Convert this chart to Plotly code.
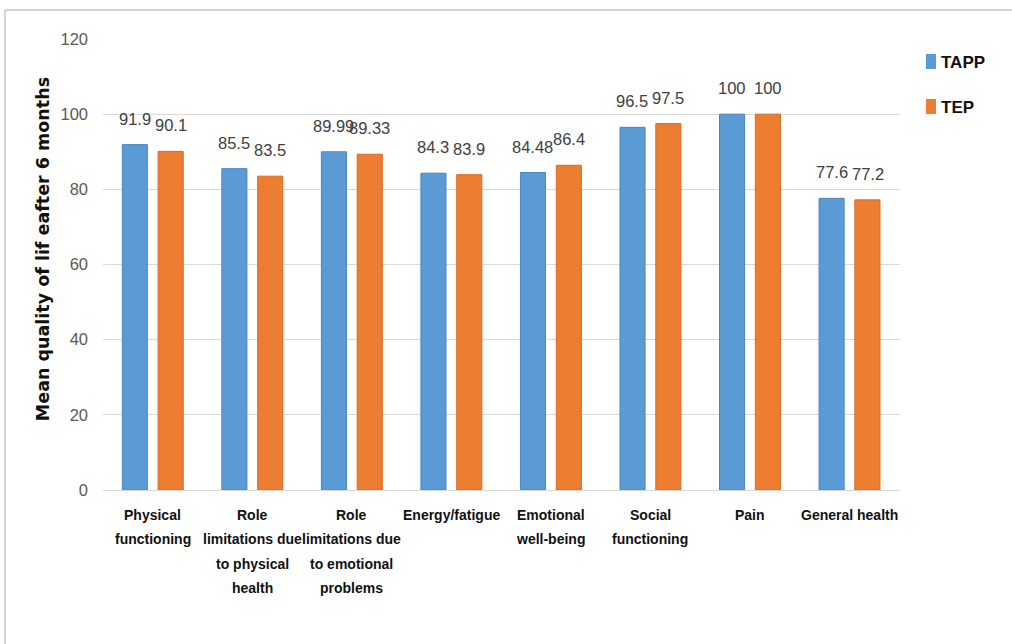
import plotly.graph_objects as go

# SF-36 domains and mean scores at 6 months
categories = [
    "Physical\nfunctioning",
    "Role\nlimitations due\nto physical\nhealth",
    "Role\nlimitations due\nto emotional\nproblems",
    "Energy/fatigue",
    "Emotional\nwell-being",
    "Social\nfunctioning",
    "Pain",
    "General health",
]
tapp = [91.9, 85.5, 89.99, 84.3, 84.48, 96.5, 100, 77.6]
tep = [90.1, 83.5, 89.33, 83.9, 86.4, 97.5, 100, 77.2]
series_names = ["TAPP", "TEP"]
y_ticks = [0, 20, 40, 60, 80, 100, 120]

keys = [c.replace("\n", " ") for c in categories]

BLUE = "#5B9BD5"
ORANGE = "#ED7D31"
SANS = "Liberation Sans, Arial, sans-serif"
WIDE = "DejaVu Sans, Verdana, sans-serif"

fig = go.Figure()
fig.add_bar(name=series_names[0], x=keys, y=tapp, marker=dict(color=BLUE, line=dict(color="#4A86C0", width=1)))
fig.add_bar(name=series_names[1], x=keys, y=tep, marker=dict(color=ORANGE, line=dict(color="#D96A20", width=1)))

annotations = []

# value labels above each bar
for vals, dx in ((tapp, -18), (tep, 18)):
    for k, v in zip(keys, vals):
        annotations.append(dict(
            x=k, y=v, xref="x", yref="y", text=f"{v:g}", showarrow=False,
            xshift=dx, yshift=15, yanchor="bottom",
            font=dict(family=SANS, size=16.5, color="#404040"),
        ))

# category labels, one annotation per line for wider line spacing
for k, label in zip(keys, categories):
    for j, line in enumerate(label.split("\n")):
        annotations.append(dict(
            x=k, y=0, xref="x", yref="y", text=f"<b>{line}</b>", showarrow=False,
            yanchor="middle", yshift=-(25 + 24.3 * j),
            font=dict(family=SANS, size=14, color="#111111"),
        ))

# y-axis title
annotations.append(dict(
    x=-0.0753, y=0.534, xref="paper", yref="paper", textangle=-90,
    text="<b>Mean quality of lif eafter 6 months</b>", showarrow=False,
    xanchor="center", yanchor="middle",
    font=dict(family=WIDE, size=17.5, color="#111111"),
))

# legend entries
shapes = []
legend_rows = [(series_names[0], BLUE, 0.9335, 0.9667, 0.949),
               (series_names[1], ORANGE, 0.8337, 0.867, 0.849)]
for name, col, y0, y1, yt in legend_rows:
    shapes.append(dict(type="rect", xref="paper", yref="paper",
                       x0=1.0326, x1=1.0452, y0=y0, y1=y1,
                       fillcolor=col, line=dict(width=0)))
    annotations.append(dict(
        x=1.0489, y=yt, xref="paper", yref="paper", text=f"<b>{name}</b>",
        showarrow=False, xanchor="left", yanchor="middle",
        font=dict(family=SANS, size=17, color="#111111"),
    ))

# chart frame (top and left edges)
shapes.append(dict(type="line", xref="paper", yref="paper",
                   x0=-0.123, x1=1.2, y0=1.0643, y1=1.0643,
                   line=dict(color="#d4d4d4", width=2)))
shapes.append(dict(type="line", xref="paper", yref="paper",
                   x0=-0.123, x1=-0.123, y0=1.0643, y1=-0.35,
                   line=dict(color="#d4d4d4", width=2)))

fig.update_layout(
    width=1012, height=644, autosize=False,
    margin=dict(l=103, r=112, t=39, b=154),
    paper_bgcolor="white", plot_bgcolor="white",
    barmode="group", bargap=0.28, bargroupgap=0.3,
    showlegend=False,
    annotations=annotations, shapes=shapes,
    xaxis=dict(showticklabels=False, showline=True, linecolor="#d9d9d9",
               linewidth=1, ticks="", showgrid=False),
    yaxis=dict(range=[0, 120], tickvals=y_ticks, showgrid=True,
               gridcolor="#d9d9d9", gridwidth=1, zeroline=False,
               showline=False, ticks="", ticklabelstandoff=14,
               tickfont=dict(family=SANS, size=16.5, color="#595959")),
)

fig.write_html("out.html")
